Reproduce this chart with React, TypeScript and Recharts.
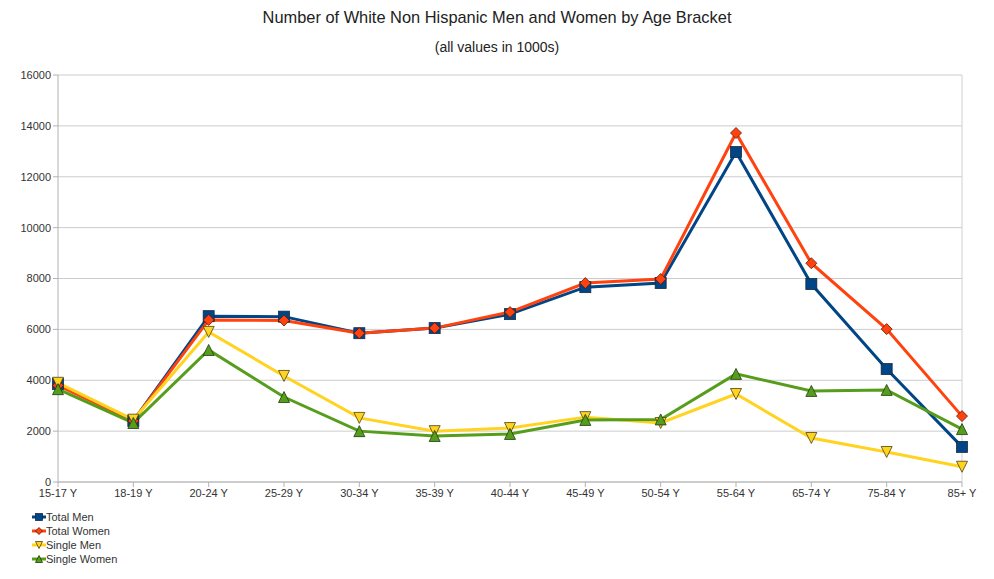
import { CartesianGrid, Line, LineChart, ReferenceLine, XAxis, YAxis } from "recharts";

const ageBrackets = ["15-17 Y", "18-19 Y", "20-24 Y", "25-29 Y", "30-34 Y", "35-39 Y", "40-44 Y", "45-49 Y", "50-54 Y", "55-64 Y", "65-74 Y", "75-84 Y", "85+ Y"];
const totalMen = [3850, 2400, 6520, 6500, 5850, 6050, 6600, 7660, 7820, 12970, 7780, 4440, 1380];
const totalWomen = [3800, 2400, 6370, 6350, 5850, 6050, 6680, 7820, 7980, 13720, 8600, 6010, 2590];
const singleMen = [3900, 2450, 5900, 4170, 2520, 2000, 2120, 2550, 2320, 3460, 1730, 1180, 600];
const singleWomen = [3650, 2320, 5190, 3340, 2000, 1810, 1890, 2440, 2460, 4250, 3580, 3620, 2080];
const yTicks = [0, 2000, 4000, 6000, 8000, 10000, 12000, 14000, 16000];

const data = ageBrackets.map((age, i) => ({
  age,
  totalMen: totalMen[i],
  totalWomen: totalWomen[i],
  singleMen: singleMen[i],
  singleWomen: singleWomen[i],
}));

const FONT = "'Liberation Sans', Arial, sans-serif";
const AXIS = "#b3b3b3";

function Square(props: any) {
  const { cx, cy, fill, size = 5.5 } = props;
  if (cx == null || cy == null) return null;
  return <rect x={cx - size} y={cy - size} width={size * 2} height={size * 2} fill={fill} stroke="#1a2a40" strokeWidth={0.8} />;
}

function Diamond(props: any) {
  const { cx, cy, fill, size = 5.5 } = props;
  if (cx == null || cy == null) return null;
  return <polygon points={`${cx},${cy - size} ${cx + size},${cy} ${cx},${cy + size} ${cx - size},${cy}`} fill={fill} stroke="#5a1a08" strokeWidth={0.8} />;
}

function Down(props: any) {
  const { cx, cy, fill, size = 5.5 } = props;
  if (cx == null || cy == null) return null;
  return <polygon points={`${cx - size},${cy - size} ${cx + size},${cy - size} ${cx},${cy + size}`} fill={fill} stroke="#4a4010" strokeWidth={0.8} />;
}

function Up(props: any) {
  const { cx, cy, fill, size = 5.5 } = props;
  if (cx == null || cy == null) return null;
  return <polygon points={`${cx - size},${cy + size} ${cx + size},${cy + size} ${cx},${cy - size}`} fill={fill} stroke="#203a10" strokeWidth={0.8} />;
}

const series = [
  { key: "totalMen", name: "Total Men", color: "#004586", Marker: Square },
  { key: "totalWomen", name: "Total Women", color: "#ff420e", Marker: Diamond },
  { key: "singleMen", name: "Single Men", color: "#ffd320", Marker: Down },
  { key: "singleWomen", name: "Single Women", color: "#579d1c", Marker: Up },
];

export default function App() {
  return (
    <div style={{ position: "absolute", left: 0, top: 0, width: 994, height: 579, background: "#fff", fontFamily: FONT }}>
      <div style={{ position: "absolute", top: 8, left: 0, width: 994, textAlign: "center", fontSize: 16.4, color: "#222" }}>
        Number of White Non Hispanic Men and Women by Age Bracket
      </div>
      <div style={{ position: "absolute", top: 39, left: 0, width: 994, textAlign: "center", fontSize: 14, color: "#222" }}>
        (all values in 1000s)
      </div>
      <LineChart width={994} height={579} data={data} margin={{ top: 75, right: 32, bottom: 0, left: 0 }}>
        <CartesianGrid vertical={false} stroke="#cccccc" />
        <XAxis
          dataKey="age"
          height={97}
          stroke={AXIS}
          tickSize={5}
          interval={0}
          tick={{ fill: "#333", fontSize: 11, fontFamily: FONT }}
        />
        <YAxis
          width={58}
          domain={[0, 16000]}
          ticks={yTicks}
          stroke={AXIS}
          tickSize={5}
          tick={{ fill: "#333", fontSize: 11, fontFamily: FONT }}
        />
        <ReferenceLine x="85+ Y" stroke="#d0d0d0" />
        {series.map(({ key, name, color, Marker }) => (
          <Line
            key={key}
            dataKey={key}
            name={name}
            stroke={color}
            strokeWidth={3}
            dot={(p: any) => <Marker key={`${key}-${p.index}`} cx={p.cx} cy={p.cy} fill={color} />}
            isAnimationActive={false}
          />
        ))}
      </LineChart>
      <div style={{ position: "absolute", left: 32, top: 510, fontSize: 11, color: "#333" }}>
        {series.map(({ key, name, color, Marker }) => (
          <div key={key} style={{ display: "flex", alignItems: "center", height: 14 }}>
            <svg width={14} height={12} style={{ marginRight: 0 }}>
              <line x1={0} y1={6} x2={14} y2={6} stroke={color} strokeWidth={3} />
              <Marker cx={7} cy={6} fill={color} size={3.5} />
            </svg>
            <span>{name}</span>
          </div>
        ))}
      </div>
    </div>
  );
}
